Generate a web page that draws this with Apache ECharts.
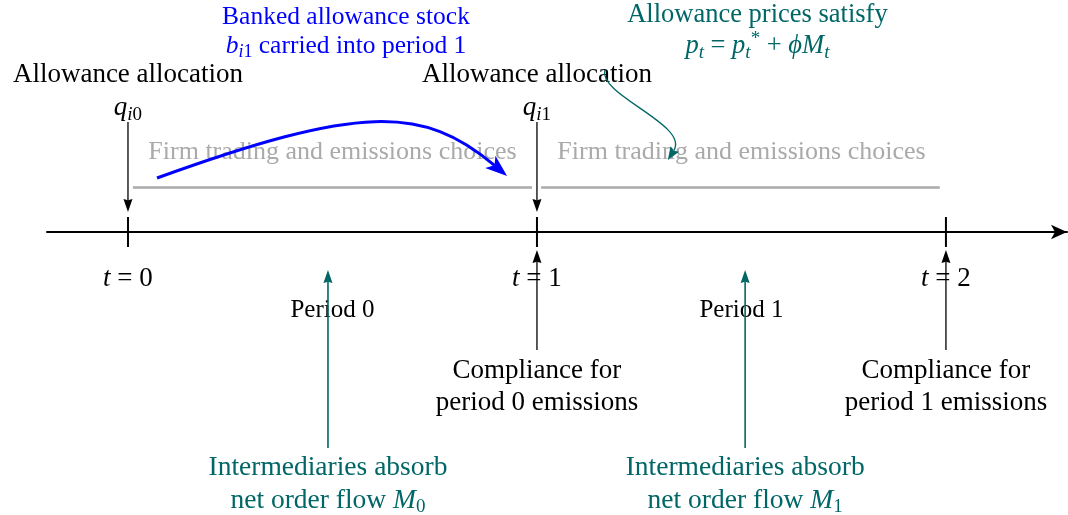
<!DOCTYPE html>
<html><head><meta charset="utf-8">
<script src="https://cdn.jsdelivr.net/npm/echarts@6/dist/echarts.min.js"></script>
<style>html,body{margin:0;padding:0;background:#fff}#c{width:1068px;height:515px}</style>
</head><body><div id="c"></div>
<script>
// ---------- data (x in model time t, y in offset above the time line) ----------
const eventTimes = [0, 1, 2];
const eventNames = ['{m|t} = 0', '{m|t} = 1', '{m|t} = 2'];

const allocationTimes = [0, 1];
const allocationTitles = ['Allowance allocation', 'Allowance allocation'];
const allocationSymbols = ['{m|q}{si|i}{sn|0}', '{m|q}{si|i}{sn|1}'];
const allocationArrows = [[0, 110, 0, 20], [1, 110, 1, 20]];

const choiceCenters = [0.5, 1.5];
const choiceTitles = ['Firm trading and emissions choices', 'Firm trading and emissions choices'];
const choiceSegments = [[0.012, 0.988], [1.010, 1.985]];

const periodCenters = [0.5, 1.5];
const periodTitles = ['Period 0', 'Period 1'];

const complianceTimes = [1, 2];
const complianceTitles = ['Compliance for\nperiod 0 emissions', 'Compliance for\nperiod 1 emissions'];
const complianceArrows = [[1, -118, 1, -18], [2, -118, 2, -18]];

const intermediaryX = [0.489, 1.509];
const intermediaryTitles = ['Intermediaries absorb\nnet order flow {m|M}{sn|0}', 'Intermediaries absorb\nnet order flow {m|M}{sn|1}'];
const intermediaryArrows = [[0.489, -216, 0.489, -38], [1.509, -216, 1.509, -38]];

const bankingNote = ['Banked allowance stock\n{m|b}{si|i}{sn|1} carried into period 1'];
const bankingNoteAt = [[0.533, 199]];
const bankingCurve = [[0.071, 54, 0.565, 127, 0.721, 127, 0.927, 56]];

const priceNote = ['Allowance prices satisfy\n{m|p}{si|t} = {m|p}{si|t}{sup|*} + {m|\u03D5M}{si|t}'];
const priceNoteAt = [[1.539, 201]];
const priceCurve = [[1.166, 162, 1.149, 137, 1.374, 107, 1.320, 72]];

// ---------- styling ----------
const SERIF = '"Liberation Serif", "DejaVu Serif", serif';
const BLACK = '#000000', BLUE = '#0000ff', TEAL = '#006666', GRAY = '#aaaaaa';

function richSet(size, color) {
  const sub = Math.round(size * 0.7), drop = Math.round(size * 0.5);
  const base = {fontFamily: SERIF, color: color};
  return {
    m: Object.assign({}, base, {fontStyle: 'italic', fontSize: size, lineHeight: size + 6}),
    si: Object.assign({}, base, {fontStyle: 'italic', fontSize: sub, lineHeight: sub, padding: [drop, 0, 0, 0]}),
    sn: Object.assign({}, base, {fontSize: sub, lineHeight: sub, padding: [drop, 0, 0, 0]}),
    sup: Object.assign({}, base, {fontSize: sub, lineHeight: sub, padding: [0, 0, drop, 0]})
  };
}

function textLayer(points, texts, size, color, lineHeight) {
  return {
    type: 'scatter', silent: true, z: 3, symbolSize: 0,
    itemStyle: {opacity: 1},
    data: points,
    label: {
      show: true, position: 'inside', align: 'center', verticalAlign: 'middle',
      formatter: p => texts[p.dataIndex],
      fontFamily: SERIF, fontSize: size, color: color, lineHeight: lineHeight || size + 6,
      rich: richSet(size, color)
    },
    emphasis: {disabled: true}
  };
}

function head(tip, from, len, wid, notch) {
  const dx = tip[0] - from[0], dy = tip[1] - from[1];
  const d = Math.hypot(dx, dy) || 1;
  const ux = dx / d, uy = dy / d, nx = -uy, ny = ux;
  const bx = tip[0] - ux * len, by = tip[1] - uy * len;
  const back = [tip[0] - ux * len * (1 - notch), tip[1] - uy * len * (1 - notch)];
  return {
    points: [tip, [bx + nx * wid / 2, by + ny * wid / 2], back, [bx - nx * wid / 2, by - ny * wid / 2]],
    back: back
  };
}

function straightArrows(arrows, color, lw, len, wid) {
  return {
    type: 'custom', z: 5, silent: true,
    data: arrows,
    encode: {x: [0, 2], y: [1, 3]},
    renderItem: (params, api) => {
      const a = api.coord([api.value(0), api.value(1)]);
      const b = api.coord([api.value(2), api.value(3)]);
      const h = head(b, a, len, wid, 0.1);
      return {type: 'group', children: [
        {type: 'line', shape: {x1: a[0], y1: a[1], x2: h.back[0], y2: h.back[1]}, style: {stroke: color, lineWidth: lw}},
        {type: 'polygon', shape: {points: h.points}, style: {fill: color}}
      ]};
    }
  };
}

function curvedArrows(curves, color, lw, len, wid, notch) {
  return {
    type: 'custom', z: 5, silent: true,
    data: curves,
    encode: {x: [0, 2, 4, 6], y: [1, 3, 5, 7]},
    renderItem: (params, api) => {
      const p0 = api.coord([api.value(0), api.value(1)]);
      const p1 = api.coord([api.value(2), api.value(3)]);
      const p2 = api.coord([api.value(4), api.value(5)]);
      const p3 = api.coord([api.value(6), api.value(7)]);
      const h = head(p3, p2, len, wid, notch);
      return {type: 'group', children: [
        {type: 'bezierCurve', shape: {x1: p0[0], y1: p0[1], cpx1: p1[0], cpy1: p1[1], cpx2: p2[0], cpy2: p2[1], x2: h.back[0], y2: h.back[1]},
         style: {stroke: color, lineWidth: lw, fill: null}},
        {type: 'polygon', shape: {points: h.points}, style: {fill: color}}
      ]};
    }
  };
}

const chart = echarts.init(document.getElementById('c'), null, {renderer: 'canvas'});
chart.setOption({
  animation: false,
  backgroundColor: '#ffffff',
  grid: {left: 47, right: 1, top: 0, bottom: 0, containLabel: false, outerBoundsMode: 'none'},
  xAxis: {
    type: 'value', min: -0.198, max: 2.296,
    axisLine: {show: true, onZero: true, symbol: ['none', 'arrow'], symbolSize: [11, 16],
      lineStyle: {color: BLACK, width: 2}},
    axisTick: {show: false},
    splitLine: {show: false},
    axisLabel: {show: false}
  },
  yAxis: {type: 'value', min: -283, max: 232, show: false},
  series: [
    // event tick marks across the time line
    {type: 'scatter', silent: true, z: 4, symbol: 'rect', symbolSize: [2, 30],
     itemStyle: {color: BLACK, opacity: 1}, data: eventTimes.map(t => [t, 0]), emphasis: {disabled: true}},
    // firm choice spans
    {type: 'lines', coordinateSystem: 'cartesian2d', silent: true, z: 2,
     lineStyle: {color: GRAY, width: 2.5, opacity: 1},
     data: choiceSegments.map(s => ({coords: [[s[0], 45], [s[1], 45]]}))},
    textLayer(eventTimes.map(t => [t, -47]), eventNames, 27, BLACK),
    textLayer(allocationTimes.map(t => [t, 157]), allocationTitles, 27, BLACK),
    textLayer(allocationTimes.map(t => [t, 124]), allocationSymbols, 27, BLACK),
    textLayer(choiceCenters.map(t => [t, 80]), choiceTitles, 26, GRAY),
    textLayer(periodCenters.map(t => [t, -78]), periodTitles, 25, BLACK),
    textLayer(complianceTimes.map(t => [t, -155]), complianceTitles, 27, BLACK, 32),
    textLayer(intermediaryX.map(t => [t, -253]), intermediaryTitles, 27.5, TEAL, 31),
    textLayer(bankingNoteAt, bankingNote, 25.5, BLUE, 26),
    textLayer(priceNoteAt, priceNote, 26.5, TEAL, 30),
    straightArrows(allocationArrows, BLACK, 1.3, 13, 9),
    straightArrows(complianceArrows, BLACK, 1.3, 13, 9),
    straightArrows(intermediaryArrows, TEAL, 1.6, 13, 9),
    curvedArrows(bankingCurve, BLUE, 3, 22, 16, 0.25),
    curvedArrows(priceCurve, TEAL, 1.3, 13, 10, 0.15)
  ]
});
</script></body></html>
